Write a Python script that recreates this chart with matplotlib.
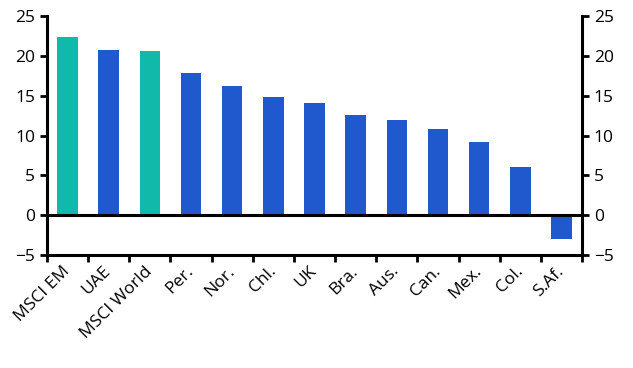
import matplotlib.pyplot as plt
import numpy as np

plt.rcParams['font.family'] = ['Open Sans', 'DejaVu Sans']

# data
countries = ['MSCI EM', 'UAE', 'MSCI World', 'Per.', 'Nor.', 'Chl.', 'UK',
             'Bra.', 'Aus.', 'Can.', 'Mex.', 'Col.', 'S.Af.']
values = [22.4, 20.7, 20.6, 17.8, 16.2, 14.8, 14.1, 12.6, 11.9, 10.8, 9.2, 6.0, -3.0]
is_index = [True, False, True, False, False, False, False,
            False, False, False, False, False, False]

teal = '#10b9a9'
blue = '#2059cd'
colors = [teal if t else blue for t in is_index]

fig = plt.figure(figsize=(6.33, 3.68), dpi=100)
ax = fig.add_axes([47 / 633, 113 / 368, 535 / 633, 239 / 368])

x = np.arange(len(countries))
ax.bar(x, values, width=0.5, color=colors, zorder=2)
ax.axhline(0, color='black', lw=2.2, zorder=3)

ax.set_xlim(-0.5, len(countries) - 0.5)
ax.set_ylim(-5, 25)
ax.set_yticks(np.arange(-5, 26, 5))

# ticks between categories, labels at centres
ax.set_xticks(np.arange(-0.5, len(countries), 1))
ax.set_xticklabels([])
ax.set_xticks(x, minor=True)
ax.set_xticklabels(countries, minor=True, rotation=45, ha='right', va='center',
                   rotation_mode='anchor', fontsize=12.5)
ax.tick_params(axis='x', which='minor', length=0, pad=10)
ax.tick_params(axis='x', which='major', direction='out', length=5, width=2)

ax.tick_params(axis='y', direction='out', length=5, width=2, labelsize=12.5,
               left=True, right=True, labelleft=True, labelright=True)

ax.spines['top'].set_visible(False)
for s in ['left', 'right', 'bottom']:
    ax.spines[s].set_linewidth(2.2)

fig.savefig('out.png', dpi=100)
